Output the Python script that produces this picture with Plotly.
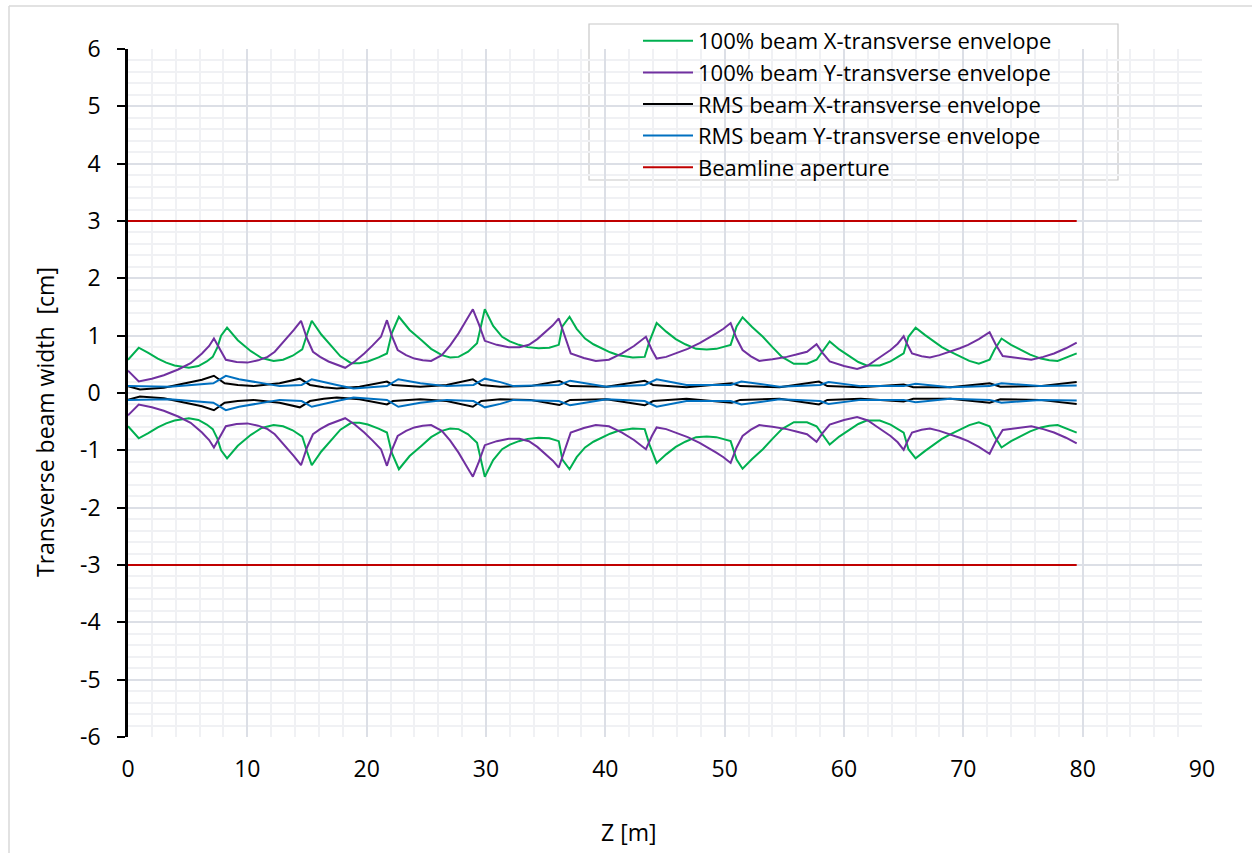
import numpy as np
import plotly.graph_objects as go

# ---------------- data (upper half of each envelope, cm vs z in m) ----------------
green_z = [0, 0.9, 1.7, 2.5, 3.2, 3.9, 5.1, 5.9, 6.6, 7.1, 7.5, 7.8, 8.3,
           9.2, 10.3, 11.2, 12.2, 13.0, 13.8, 14.6, 15.0, 15.4,
           16.2, 17.0, 17.8, 18.7, 19.4, 20.1, 21.0, 21.7, 22.1, 22.7,
           23.6, 24.6, 25.4, 26.3, 27.0, 27.7, 28.5, 29.25, 29.6, 29.9,
           30.6, 31.35, 32.0, 32.75, 33.5, 34.4, 35.3, 36.1, 36.4, 37.0,
           37.6, 38.3, 39.0, 39.7, 40.4, 41.1, 42.3, 43.3, 43.7, 44.3,
           45.1, 45.9, 46.7, 47.6, 48.5, 49.3, 50.5, 51.0, 51.5,
           52.3, 53.2, 54.0, 54.8, 55.8, 56.9, 57.7, 58.1, 58.8,
           59.6, 60.5, 61.2, 61.9, 63.0, 63.9, 65.0, 65.4, 66.0,
           66.8, 67.5, 68.2, 68.9, 69.8, 70.5, 71.3, 72.2, 72.6, 73.2,
           74.0, 74.8, 75.6, 76.5, 77.2, 77.9, 78.7, 79.5]
green_y = [0.58, 0.79, 0.70, 0.60, 0.53, 0.48, 0.44, 0.47, 0.55, 0.63, 0.80, 1.00, 1.14,
           0.92, 0.73, 0.61, 0.56, 0.58, 0.65, 0.76, 1.02, 1.26,
           1.02, 0.83, 0.64, 0.52, 0.52, 0.55, 0.62, 0.69, 1.04, 1.33,
           1.10, 0.92, 0.77, 0.66, 0.62, 0.63, 0.72, 0.87, 1.20, 1.46,
           1.17, 0.98, 0.90, 0.84, 0.80, 0.78, 0.79, 0.84, 1.16, 1.33,
           1.12, 0.95, 0.85, 0.78, 0.71, 0.66, 0.62, 0.63, 0.90, 1.22,
           1.07, 0.94, 0.85, 0.77, 0.76, 0.77, 0.84, 1.16, 1.32,
           1.15, 0.98, 0.80, 0.63, 0.51, 0.51, 0.58, 0.69, 0.90,
           0.76, 0.63, 0.54, 0.48, 0.48, 0.55, 0.69, 0.98, 1.14,
           1.01, 0.90, 0.80, 0.72, 0.63, 0.56, 0.51, 0.58, 0.75, 0.95,
           0.84, 0.75, 0.67, 0.60, 0.57, 0.56, 0.62, 0.69]

purple_z = [0, 0.5, 0.9, 2.0, 3.0, 4.2, 5.25, 6.2, 6.8, 7.2, 7.6, 8.2,
            9.1, 10.0, 10.9, 11.7, 12.3, 12.8, 13.4, 13.9, 14.5, 15.0, 15.5,
            16.1, 16.8, 17.5, 18.2, 19.0, 19.8, 20.5, 21.2, 21.7, 22.1, 22.6,
            23.3, 24.0, 24.7, 25.4, 26.3, 27.0, 27.7, 28.3, 28.9, 29.4, 29.9,
            30.9, 31.9, 32.8, 33.6, 34.3, 35.0, 35.6, 36.1, 36.6, 37.1,
            38.2, 39.2, 40.3, 41.4, 42.4, 43.4, 43.9, 44.3,
            45.1, 45.9, 46.9, 47.9, 48.6, 49.3, 49.9, 50.5, 51.0, 51.5,
            52.2, 52.9, 54.0, 55.2, 56.0, 56.9, 57.7, 58.2, 58.8,
            60.0, 61.1, 62.0, 62.7, 63.3, 63.9, 64.5, 65.0, 65.3, 65.7,
            66.5, 67.2, 68.0, 68.9, 69.7, 70.4, 71.3, 72.2, 72.7, 73.3,
            74.5, 75.7, 76.7, 77.6, 78.6, 79.5]
purple_y = [0.39, 0.28, 0.20, 0.25, 0.31, 0.41, 0.52, 0.69, 0.82, 0.95, 0.80, 0.58,
            0.54, 0.53, 0.57, 0.63, 0.72, 0.84, 0.97, 1.10, 1.26, 0.95, 0.72,
            0.63, 0.55, 0.49, 0.44, 0.55, 0.69, 0.83, 0.98, 1.27, 1.00, 0.75,
            0.66, 0.60, 0.57, 0.56, 0.66, 0.83, 1.04, 1.25, 1.46, 1.20, 0.91,
            0.84, 0.80, 0.80, 0.84, 0.94, 1.07, 1.18, 1.30, 1.00, 0.69,
            0.61, 0.56, 0.58, 0.69, 0.82, 0.98, 0.75, 0.60,
            0.63, 0.69, 0.77, 0.87, 0.95, 1.04, 1.12, 1.22, 0.95, 0.75,
            0.64, 0.56, 0.59, 0.63, 0.67, 0.72, 0.85, 0.70, 0.55,
            0.47, 0.42, 0.48, 0.58, 0.66, 0.75, 0.86, 0.99, 0.85, 0.69,
            0.64, 0.62, 0.66, 0.72, 0.78, 0.84, 0.94, 1.06, 0.85, 0.645,
            0.61, 0.58, 0.63, 0.69, 0.78, 0.88]

black_z = [0, 1.0, 3.0, 4.9, 6.2, 7.2, 8.1, 9.2, 10.5, 12.7, 14.4, 15.25, 16.4, 17.5, 19.4,
           21.7, 22.2, 24.5, 26.7, 28.9, 29.6, 31.2, 33.7, 36.15, 37.05, 40.1, 43.3, 44.0,
           46.8, 50.6, 51.3, 54.6, 57.9, 58.6, 61.4, 65.0, 65.8, 68.9, 72.2, 73.1, 76.4, 79.5]
black_y = [0.12, 0.06, 0.09, 0.17, 0.23, 0.30, 0.17, 0.14, 0.12, 0.17, 0.25, 0.14, 0.10, 0.08, 0.11,
           0.20, 0.14, 0.11, 0.14, 0.24, 0.14, 0.11, 0.12, 0.21, 0.12, 0.11, 0.215, 0.14,
           0.10, 0.17, 0.12, 0.10, 0.20, 0.12, 0.10, 0.15, 0.10, 0.10, 0.17, 0.11, 0.12, 0.19]

blue_z = [0, 3.5, 7.15, 8.2, 9.3, 10.5, 12.7, 14.55, 15.4, 17.5, 18.9, 21.7, 22.65, 24.5, 26.7,
          28.95, 29.9, 31.2, 32.3, 36.1, 37.05, 40.1, 43.3, 44.3, 46.8, 50.5, 51.4, 54.6,
          58.0, 58.7, 59.7, 61.4, 65.0, 66.0, 68.9, 72.2, 73.2, 76.4, 79.5]
blue_y = [0.12, 0.11, 0.17, 0.30, 0.24, 0.20, 0.12, 0.14, 0.24, 0.14, 0.08, 0.12, 0.24, 0.17, 0.12,
          0.14, 0.25, 0.19, 0.12, 0.14, 0.215, 0.11, 0.14, 0.24, 0.14, 0.14, 0.20, 0.11,
          0.14, 0.19, 0.16, 0.12, 0.12, 0.16, 0.10, 0.12, 0.17, 0.12, 0.13]

aperture_z = [0, 79.5]
aperture_y = [3, 3]

names = ["100% beam X-transverse envelope", "100% beam Y-transverse envelope",
         "RMS beam X-transverse envelope", "RMS beam Y-transverse envelope",
         "Beamline aperture"]
colors = ["#00B050", "#7030A0", "#000000", "#0070C0", "#C00000"]

x_ticks = list(range(0, 91, 10))
y_ticks = list(range(-6, 7, 1))
x_labels = [str(v) for v in x_ticks]
y_labels = [str(v) for v in y_ticks]

FONT = "Open Sans"
TICK_SIZE = 23
LEG_SIZE = 22

fig = go.Figure()
series = [(green_z, green_y), (purple_z, purple_y), (black_z, black_y),
          (blue_z, blue_y), (aperture_z, aperture_y)]
for i, (zz, yy) in enumerate(series):
    fig.add_trace(go.Scatter(x=zz, y=yy, mode="lines", name=names[i], legendgroup=names[i],
                             line=dict(color=colors[i], width=2), showlegend=True))
for i, (zz, yy) in enumerate(series):
    fig.add_trace(go.Scatter(x=zz, y=(-np.array(yy)).tolist(), mode="lines", name=names[i],
                             legendgroup=names[i], line=dict(color=colors[i], width=2),
                             showlegend=False))

L, R, T, B = 128, 1202, 49, 737
W, H = R - L, B - T
def px(x): return (x - L) / W
def py(y): return (B - y) / H

fig.update_layout(
    width=1252, height=853,
    margin=dict(l=L, r=1252 - R, t=T, b=853 - B, autoexpand=False),
    paper_bgcolor="white", plot_bgcolor="white",
    font=dict(family=FONT, size=TICK_SIZE, color="black"),
    legend=dict(x=px(638), y=py(20), xanchor="left", yanchor="top",
                bgcolor="rgba(0,0,0,0)", borderwidth=0, itemwidth=50,
                tracegroupgap=0, traceorder="grouped",
                font=dict(family=FONT, size=LEG_SIZE, color="black")),
    xaxis=dict(range=[0, 90], tickvals=x_ticks, ticktext=x_labels, ticks="",
               showline=False, zeroline=False,
               showgrid=True, gridcolor="#DCDFE6", gridwidth=2,
               minor=dict(dtick=2, showgrid=True, gridcolor="#F0F1F4", gridwidth=2),
               tickfont=dict(size=TICK_SIZE), ticklabelstandoff=16),
    yaxis=dict(range=[-6, 6], tickvals=y_ticks, ticktext=y_labels, ticks="outside",
               ticklen=8, tickwidth=2,
               tickcolor="black", showline=True, linecolor="black", linewidth=2.5,
               zeroline=False, showgrid=True, gridcolor="#DCDFE6", gridwidth=2,
               minor=dict(dtick=0.2, showgrid=True, gridcolor="#F0F1F4", gridwidth=2),
               tickfont=dict(size=TICK_SIZE), ticklabelstandoff=12),
    shapes=[
        dict(type="rect", xref="paper", yref="paper", x0=px(589), x1=px(1118),
             y0=py(180), y1=py(24), fillcolor="white", line=dict(color="#C8C8C8", width=1.2),
             layer="below"),
        dict(type="line", xref="paper", yref="paper", x0=px(9), x1=px(1260),
             y0=py(6), y1=py(6), line=dict(color="#D9D9D9", width=1.5)),
        dict(type="line", xref="paper", yref="paper", x0=px(9), x1=px(9),
             y0=py(6), y1=py(870), line=dict(color="#D9D9D9", width=1.5)),
    ],
    annotations=[
        dict(text="Transverse beam width  [cm]", xref="paper", yref="paper",
             x=px(45), y=py(422), textangle=-90, showarrow=False,
             xanchor="center", yanchor="middle", font=dict(size=TICK_SIZE)),
        dict(text="Z [m]", xref="paper", yref="paper", x=px(628), y=py(832),
             showarrow=False, xanchor="center", yanchor="middle", font=dict(size=TICK_SIZE)),
    ],
)

fig.write_html("out.html")
